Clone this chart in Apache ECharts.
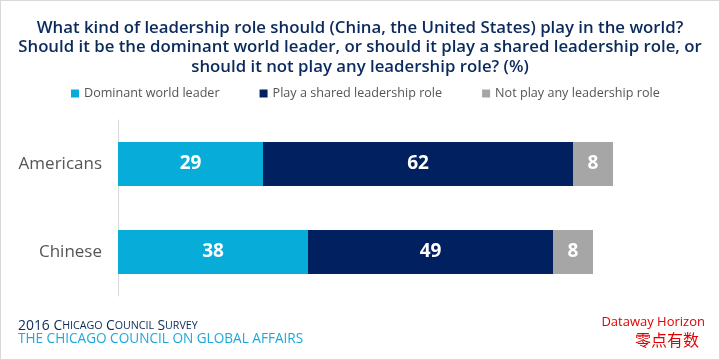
<!DOCTYPE html>
<html><head><meta charset="utf-8">
<script src="https://cdn.jsdelivr.net/npm/echarts@6/dist/echarts.min.js"></script>
<style>html,body{margin:0;padding:0;background:#fff}#c{width:720px;height:360px;box-sizing:border-box;border:1px solid #d9d9d9}</style>
</head><body><div id="c"></div>
<script>
const categories = ['Chinese', 'Americans'];
const seriesNames = ['Dominant world leader', 'Play a shared leadership role', 'Not play any leadership role'];
const dominant = [38, 29];
const shared = [49, 62];
const none = [8, 8];
const colors = ['#08acd8', '#002060', '#a6a6a6'];

const chart = echarts.init(document.getElementById('c'));
const font = 'Open Sans';
function mk(name, data, color) {
  return {
    name, type: 'bar', stack: 'a', data, barWidth: 44,
    itemStyle: { color },
    label: { show: true, position: 'inside', color: '#fff', fontFamily: font, fontWeight: 'bold', fontSize: 19 }
  };
}
chart.setOption({
  animation: false,
  title: {
    text: 'What kind of leadership role should (China, the United States) play in the world?\nShould it be the dominant world leader, or should it play a shared leadership role, or\nshould it not play any leadership role? (%)',
    left: 'center', top: 12,
    textStyle: { fontFamily: font, fontSize: 16.8, fontWeight: 600, color: '#0b2a5c', lineHeight: 19.5, align: 'center' }
  },
  legend: {
    top: 86, left: 70, padding: 0, itemWidth: 8, itemHeight: 8, itemGap: 40, icon: 'rect',
    textStyle: { fontFamily: font, fontSize: 12.6, color: '#555' },
    data: seriesNames
  },
  grid: { left: 117, right: 101, top: 119, bottom: 63 },
  xAxis: { type: 'value', min: 0, max: 100, show: false },
  yAxis: {
    type: 'category', data: categories,
    axisLine: { lineStyle: { color: '#d9d9d9' } }, axisTick: { show: false },
    axisLabel: { fontFamily: font, fontSize: 17, color: '#555', margin: 16 }
  },
  series: [mk(seriesNames[0], dominant, colors[0]), mk(seriesNames[1], shared, colors[1]), mk(seriesNames[2], none, colors[2])],
  graphic: [
    { type: 'text', left: 17, top: 318, style: { text: '{b|2016 C}{s|HICAGO} {b|C}{s|OUNCIL} {b|S}{s|URVEY}', rich: { b: { fontFamily: font, fontSize: 13.9, fill: '#0b2a5c' }, s: { fontFamily: font, fontSize: 10.7, fill: '#0b2a5c' } } } },
    { type: 'text', left: 17, top: 331, style: { text: 'THE CHICAGO COUNCIL ON GLOBAL AFFAIRS', fontFamily: font, fontSize: 13.6, fill: '#1aa9dc' } },
    { type: 'text', right: 14, top: 315, style: { text: 'Dataway Horizon', fontFamily: font, fontSize: 13, fill: '#e00000' } },
    { type: 'text', right: 20, top: 331, style: { text: '零点有数', fontFamily: 'Noto Sans CJK SC', fontSize: 16, fill: '#e00000' } }
  ]
});
</script></body></html>
